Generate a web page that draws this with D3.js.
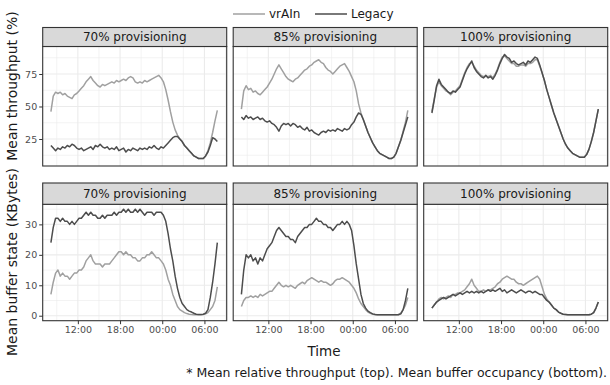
<!DOCTYPE html>
<html>
<head>
<meta charset="utf-8">
<script src="https://cdn.jsdelivr.net/npm/d3@7"></script>
<style>
  body { margin: 0; background: #fff; }
  svg { font-family: "DejaVu Sans", Verdana, sans-serif; }
</style>
</head>
<body>
<svg id="chart" width="610" height="385"></svg>
<script>
// facets
const panelLabels = ["70% provisioning", "85% provisioning", "100% provisioning"];
const seriesNames = ["vrAIn", "Legacy"];

// samples every 20 minutes from 08:10 to 07:50 next day
const startTime = new Date(2019, 0, 1, 8, 10);
const stepMinutes = 20;
const nSamples = 72;

// mean relative throughput (%)
const thrVrain70 = [46,58,61,60,61,59,60,58,57,56, 59,60,62,64,66,69,71,73,70,68, 66,65,67,66,67,68,69,68,70,69,
  70,71,70,72,73,72,69,68,69,68, 70,69,70,71,72,73,74,72,69,63, 55,46,38,32,28,25,23,20,18,16,
  14,12,11,10,10,10,12,16,22,30, 39,47];
const thrLegacy70 = [20,18,16,18,17,19,18,20,19,21, 20,18,17,18,16,17,18,19,17,20, 19,21,19,18,19,17,18,17,19,16,
  17,18,15,17,16,18,17,16,18,17, 18,17,19,18,20,18,17,19,18,20, 22,24,26,27,27,25,23,20,18,16,
  14,12,11,10,10,10,12,15,20,26, 25,23];
const thrVrain85 = [48,62,66,63,64,61,62,60,59,61, 63,65,68,71,75,79,82,79,76,73, 71,70,69,71,72,74,76,78,79,81,
  82,84,85,86,84,83,80,78,77,75, 77,79,81,82,83,80,77,73,69,62, 52,45,40,35,30,26,22,19,16,14,
  13,12,11,10,10,11,14,19,24,31, 38,47];
const thrLegacy85 = [42,40,43,41,42,40,41,42,40,41, 39,38,39,37,36,34,31,35,37,36, 37,35,37,36,34,35,33,32,34,31,
  32,30,29,28,30,31,30,32,31,32, 31,33,32,31,33,32,33,36,38,42, 45,44,40,35,30,26,22,19,16,14,
  13,12,11,10,10,11,14,19,24,30, 36,42];
const thrVrain100 = [46,56,65,69,66,64,62,61,59,61, 62,64,66,71,76,80,83,84,81,78, 76,74,73,73,73,74,72,75,79,84,
  88,89,87,85,83,83,81,81,82,82, 81,83,83,84,86,86,81,76,70,63, 57,51,45,40,35,30,25,21,18,16,
  14,13,12,11,11,11,13,17,23,30, 39,48];
const thrLegacy100 = [45,55,66,71,67,65,63,61,60,62, 61,63,65,70,75,79,82,85,80,77, 75,73,72,74,72,73,71,74,78,83,
  87,90,88,87,84,85,83,82,83,84, 82,85,84,86,88,87,82,76,70,63, 57,51,45,40,35,30,25,21,18,16,
  14,13,12,11,11,11,13,17,23,30, 39,48];

// mean buffer occupancy (KBytes)
const bufVrain70 = [7,11,14,15,13,14,13,13,12,13, 14,14,15,15,16,18,19,20,18,17, 17,17,16,17,17,17,18,19,20,21,
  21,20,21,20,20,19,19,18,18,19, 19,20,20,21,20,19,19,18,17,15, 12,10,7,5,3,2,1.5,1,0.7,0.5,
  0.4,0.3,0.3,0.3,0.3,0.4,0.6,1,2,3, 5,9.5];
const bufLegacy70 = [24,29,32,32,31,32,31,31,30,31, 30,31,32,32,33,34,33,34,33,33, 32,32,33,32,33,33,33,34,33,34,
  34,35,34,35,34,34,35,34,35,34, 33,34,34,34,33,34,34,34,33,31, 27,22,18,13,9,6,4,3,2,1.5,
  1.2,0.8,0.5,0.4,0.4,0.5,0.8,2,6,11, 17,24];
const bufVrain85 = [3,5,6,6,6.5,6,6.5,6,7,6.5, 7,7.5,8,8,9,10,11,10,9.5,10, 9.5,10,9.5,9,10,10.5,11,10.5,11.5,12,
  12.5,12,11.5,11,11.5,11,11,10.5,10,10.5, 11.5,12,12,12.5,12,11.5,11,10,9,7.5, 5.5,4,3,2,1.2,0.8,0.5,0.4,0.3,0.3,
  0.3,0.3,0.3,0.3,0.3,0.3,0.3,0.4,0.8,2, 3.5,6];
const bufLegacy85 = [7,15,20,19,20,18,19,17,19,18, 20,22,23,24,26,28,29,28,27,26, 26,25,25,24,26,27,28,29,29,30,
  30,31,32,31,31,30,30,29,29,28, 29,30,30,31,30,31,30,28,23,17, 12,7,4,2.5,1.5,1,0.6,0.4,0.3,0.3,
  0.3,0.3,0.3,0.3,0.3,0.3,0.3,0.3,0.6,2, 5,9];
const bufVrain100 = [2.5,3.5,4.5,5.5,6,5.5,6,6.5,6,7, 7,7.5,7.5,8,8.5,9.5,10.5,12,10,9, 8,8,8.5,8,8.5,8.5,9,9.5,10.5,11,
  12,12.5,13,12.5,12,12,11,10.5,10.5,10, 10.5,11,11.5,12,12.5,13,12,9.5,7,5.5, 4.5,3.5,2.5,2,1.2,0.8,0.5,0.4,0.3,0.3,
  0.3,0.3,0.3,0.3,0.3,0.3,0.3,0.3,0.5,1, 2.5,4.5];
const bufLegacy100 = [2.5,3.5,4.5,5,5.5,6,5.5,6,6.5,7, 6.5,7,7.5,7,7.5,8,7.5,8,7.5,8, 7.5,8,7.5,8,8.5,8,8.5,8,8.5,9,
  8,8.5,7.5,8,8.5,8,7.5,8,8.5,8, 7.5,8,8,7.5,8,7.5,7,7,6,5, 4.5,3.5,2.5,2,1.2,0.8,0.5,0.4,0.3,0.3,
  0.3,0.3,0.3,0.3,0.3,0.3,0.3,0.3,0.5,1, 2.5,4.5];

// axis ticks
const topTicks = [25, 50, 75];
const topMinor = [12.5, 37.5, 62.5, 87.5];
const bottomTicks = [0, 10, 20, 30];
const bottomMinor = [5, 15, 25, 35];
const timeTickLabels = ["12:00", "18:00", "00:00", "06:00"];
const timeMinorLabels = ["09:00", "15:00", "21:00", "03:00", "09:00"];

const times = d3.range(nSamples).map(i => d3.timeMinute.offset(startTime, i * stepMinutes));

const colors = { vrAIn: "#a0a0a0", Legacy: "#4d4d4d" };

// layout
const panelX = [42.7, 233.2, 423.7];
const panelW = 184;
const rows = [
  { stripY: 27.5, stripH: 19, plotY: 46.5, plotH: 119.5, domain: [4.23, 96.15],
    ticks: topTicks, minor: topMinor, title: "Mean throughput (%)", titleY: 86,
    data: [[thrVrain70, thrLegacy70], [thrVrain85, thrLegacy85], [thrVrain100, thrLegacy100]] },
  { stripY: 183, stripH: 21.3, plotY: 204.3, plotH: 116.4, domain: [-1.64, 36.6],
    ticks: bottomTicks, minor: bottomMinor, title: "Mean buffer state (KBytes)", titleY: 262,
    data: [[bufVrain70, bufLegacy70], [bufVrain85, bufLegacy85], [bufVrain100, bufLegacy100]] }
];

// clock labels in order -> dates, rolling to the next day when the clock wraps
function clockDates(labels) {
  let day = 1, prev = -1;
  return labels.map(s => {
    const [h, m] = s.split(":").map(Number);
    if (h < 7 && day === 1) day = 2;
    if (h < prev) day = 2;
    prev = h;
    return new Date(2019, 0, day, h, m);
  });
}
const xMajor = clockDates(timeTickLabels);
const xMinor = clockDates(timeMinorLabels);

const x = d3.scaleTime()
  .domain([new Date(2019, 0, 1, 7, 0), new Date(2019, 0, 2, 9, 10)])
  .range([0, panelW]);

const svg = d3.select("#chart");

rows.forEach((row, r) => {
  const y = d3.scaleLinear().domain(row.domain).range([row.plotH, 0]);

  panelX.forEach((px, p) => {
    const g = svg.append("g").attr("transform", `translate(${px},${row.plotY})`);
    const clipId = `clip-${r}-${p}`;
    g.append("clipPath").attr("id", clipId)
      .append("rect").attr("width", panelW).attr("height", row.plotH);

    g.append("rect").attr("width", panelW).attr("height", row.plotH).attr("fill", "#fff");

    // minor grid
    g.selectAll(".hmin").data(row.minor).join("line")
      .attr("x1", 0).attr("x2", panelW)
      .attr("y1", d => y(d)).attr("y2", d => y(d))
      .attr("stroke", "#ebebeb").attr("stroke-width", 0.6);
    g.selectAll(".vmin").data(xMinor).join("line")
      .attr("x1", d => x(d)).attr("x2", d => x(d))
      .attr("y1", 0).attr("y2", row.plotH)
      .attr("stroke", "#ebebeb").attr("stroke-width", 0.6);
    // major grid
    g.selectAll(".hmaj").data(row.ticks).join("line")
      .attr("x1", 0).attr("x2", panelW)
      .attr("y1", d => y(d)).attr("y2", d => y(d))
      .attr("stroke", "#ebebeb").attr("stroke-width", 1.1);
    g.selectAll(".vmaj").data(xMajor).join("line")
      .attr("x1", d => x(d)).attr("x2", d => x(d))
      .attr("y1", 0).attr("y2", row.plotH)
      .attr("stroke", "#ebebeb").attr("stroke-width", 1.1);

    const line = d3.line()
      .x((d, i) => x(times[i]))
      .y(d => y(d));

    const lines = g.append("g").attr("clip-path", `url(#${clipId})`);
    row.data[p].forEach((vals, s) => {
      lines.append("path")
        .datum(vals)
        .attr("fill", "none")
        .attr("stroke", colors[seriesNames[s]])
        .attr("stroke-width", 1.5)
        .attr("stroke-linejoin", "round")
        .attr("d", line);
    });

    g.append("rect").attr("width", panelW).attr("height", row.plotH)
      .attr("fill", "none").attr("stroke", "#333").attr("stroke-width", 1.1);

    // strip
    svg.append("rect")
      .attr("x", px).attr("y", row.stripY)
      .attr("width", panelW).attr("height", row.stripH)
      .attr("fill", "#d9d9d9").attr("stroke", "#333").attr("stroke-width", 1.1);
    svg.append("text")
      .attr("x", px + panelW / 2).attr("y", row.stripY + row.stripH / 2)
      .attr("text-anchor", "middle").attr("dominant-baseline", "central")
      .attr("font-size", 12).attr("fill", "#1a1a1a")
      .text(panelLabels[p]);

    // y axis on first column
    if (p === 0) {
      const ax = g.append("g").call(d3.axisLeft(y).tickValues(row.ticks).tickSize(3.5).tickPadding(2));
      ax.select(".domain").remove();
      ax.selectAll("line").attr("stroke", "#333");
      ax.selectAll("text").attr("fill", "#4d4d4d").attr("font-size", 9.5)
        .attr("font-family", "DejaVu Sans, sans-serif");
    }
    // x axis on bottom row
    if (r === 1) {
      const ax = g.append("g").attr("transform", `translate(0,${row.plotH})`)
        .call(d3.axisBottom(x).tickValues(xMajor).tickFormat(d3.timeFormat("%H:%M"))
          .tickSize(3.5).tickPadding(2));
      ax.select(".domain").remove();
      ax.selectAll("line").attr("stroke", "#333");
      ax.selectAll("text").attr("fill", "#4d4d4d").attr("font-size", 9.5)
        .attr("font-family", "DejaVu Sans, sans-serif");
    }
  });

  // y title
  svg.append("text")
    .attr("transform", `translate(12,${row.titleY}) rotate(-90)`)
    .attr("text-anchor", "middle").attr("dominant-baseline", "central")
    .attr("font-size", 14).attr("fill", "#1a1a1a")
    .text(row.title);
});

// x title
svg.append("text")
  .attr("x", 324).attr("y", 351)
  .attr("text-anchor", "middle").attr("dominant-baseline", "central")
  .attr("font-size", 13.5).attr("fill", "#1a1a1a")
  .text("Time");

// legend
const legend = svg.append("g").attr("transform", "translate(233,14)");
const legendX = [0, 82];
seriesNames.forEach((name, i) => {
  legend.append("line")
    .attr("x1", legendX[i]).attr("x2", legendX[i] + 32)
    .attr("y1", 0).attr("y2", 0)
    .attr("stroke", colors[name]).attr("stroke-width", 1.5);
  legend.append("text")
    .attr("x", legendX[i] + 36).attr("y", 0)
    .attr("dominant-baseline", "central")
    .attr("font-size", 12).attr("fill", "#1a1a1a")
    .text(name);
});

// caption
svg.append("text")
  .attr("x", 607).attr("y", 372)
  .attr("text-anchor", "end").attr("dominant-baseline", "central")
  .attr("font-size", 12.5).attr("fill", "#1a1a1a")
  .text("* Mean relative throughput (top). Mean buffer occupancy (bottom).");
</script>
</body>
</html>
